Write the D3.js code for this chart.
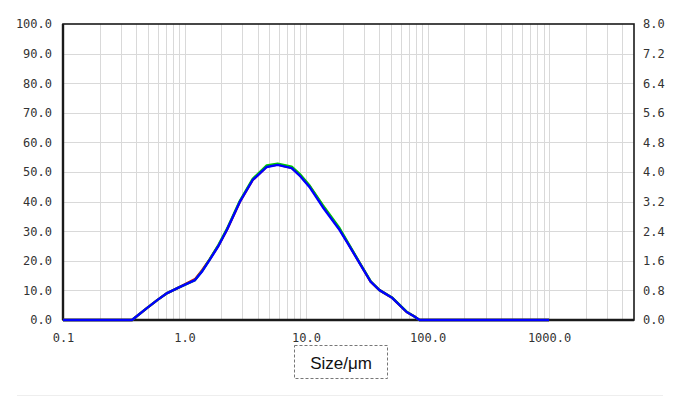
<!DOCTYPE html>
<html>
<head>
<meta charset="utf-8">
<script src="https://cdn.jsdelivr.net/npm/d3@7"></script>
<style>
  body { margin: 0; background: #fff; }
  svg { display: block; }
</style>
</head>
<body>
<div id="chart"></div>
<script>
// particle sizes (um) and the three overlaid distribution runs
const sizes = [0.1, 0.3, 0.37, 0.49, 0.6, 0.72, 0.91, 1.22, 1.4, 1.61, 1.9, 2.23, 2.85, 3.64, 4.75, 5.84, 7.62, 9.0, 10.7, 13.7, 18.9, 22, 27.5, 34, 40.2, 51.4, 67.3, 78, 85.8, 100, 1000];
const redValues = [0, 0, 0, 4.0, 6.8, 9.1, 11.1, 13.8, 16.9, 20.5, 25.1, 30.4, 39.9, 47.3, 51.8, 52.5, 51.4, 48.7, 45.2, 38.6, 30.6, 26.1, 19.4, 13.0, 10.1, 7.4, 2.7, 1.2, 0, 0, 0];
const greenValues = [0, 0, 0, 4.0, 6.8, 9.1, 11.1, 13.5, 16.6, 20.5, 25.3, 30.7, 40.2, 47.7, 52.2, 52.8, 51.8, 49.1, 45.4, 38.9, 31.0, 26.3, 19.5, 13.1, 10.1, 7.5, 2.8, 1.2, 0, 0, 0];
const blueValues = [0, 0, 0, 4.0, 6.8, 9.1, 11.1, 13.5, 16.5, 20.3, 25.0, 30.4, 39.9, 47.3, 51.7, 52.4, 51.3, 48.5, 44.9, 38.2, 30.4, 26.0, 19.3, 13.0, 10.1, 7.4, 2.7, 1.2, 0, 0, 0];

const xTicks = [0.1, 1, 10, 100, 1000];
const xTickLabels = ["0.1", "1.0", "10.0", "100.0", "1000.0"];
const leftTicks = [0, 10, 20, 30, 40, 50, 60, 70, 80, 90, 100];
const rightTicks = [0, 0.8, 1.6, 2.4, 3.2, 4.0, 4.8, 5.6, 6.4, 7.2, 8.0];
const xTitle = "Size/\u03bcm";

const width = 690, height = 397;
const plotLeft = 63, plotRight = 634, plotTop = 24, plotBottom = 320;

const svg = d3.select("#chart").append("svg")
    .attr("width", width)
    .attr("height", height);

const x = d3.scaleLog().domain([0.1, 5000]).range([plotLeft, plotRight]);
const y = d3.scaleLinear().domain([0, 100]).range([plotBottom, plotTop]);
const y2 = d3.scaleLinear().domain([0, 8]).range([plotBottom, plotTop]);

// vertical grid: every 1..9 per decade
const minor = [];
for (let e = -1; e <= 3; e++) {
    for (let m = 1; m <= 9; m++) {
        const v = m * Math.pow(10, e);
        if (v > 0.1 && v < 5000) minor.push(v);
    }
}

const grid = svg.append("g").attr("stroke", "#d9d9d9").attr("stroke-width", 1);
grid.selectAll("line.v")
    .data(minor)
    .join("line")
    .attr("class", "v")
    .attr("x1", d => Math.round(x(d)) + 0.5)
    .attr("x2", d => Math.round(x(d)) + 0.5)
    .attr("y1", plotTop)
    .attr("y2", plotBottom);
grid.selectAll("line.h")
    .data(leftTicks.slice(1, -1))
    .join("line")
    .attr("class", "h")
    .attr("x1", plotLeft)
    .attr("x2", plotRight)
    .attr("y1", d => Math.round(y(d)) + 0.5)
    .attr("y2", d => Math.round(y(d)) + 0.5);

// frame
svg.append("rect")
    .attr("x", plotLeft)
    .attr("y", plotTop)
    .attr("width", plotRight - plotLeft)
    .attr("height", plotBottom - plotTop)
    .attr("fill", "none")
    .attr("stroke", "#1a1a1a")
    .attr("stroke-width", 1.6);
svg.append("line")
    .attr("x1", plotLeft).attr("x2", plotRight)
    .attr("y1", plotBottom).attr("y2", plotBottom)
    .attr("stroke", "#1a1a1a").attr("stroke-width", 2.4);
svg.append("line")
    .attr("x1", plotLeft).attr("x2", plotLeft)
    .attr("y1", plotTop).attr("y2", plotBottom)
    .attr("stroke", "#1a1a1a").attr("stroke-width", 2.4);

// curves
const line = d3.line()
    .x(d => x(d[0]))
    .y(d => y(d[1]));

const series = [
    {color: "#ff0000", values: redValues},
    {color: "#00cc00", values: greenValues},
    {color: "#0000ff", values: blueValues}
];

svg.append("g").selectAll("path")
    .data(series)
    .join("path")
    .attr("d", s => line(sizes.map((sz, i) => [sz, s.values[i]])))
    .attr("fill", "none")
    .attr("stroke", s => s.color)
    .attr("stroke-width", 2.4)
    .attr("stroke-linejoin", "round");

// axes (labels only)
const tickFont = "'DejaVu Sans Mono', monospace";

const leftAxis = svg.append("g")
    .attr("transform", `translate(${plotLeft},0)`)
    .call(d3.axisLeft(y).tickValues(leftTicks).tickSize(0).tickPadding(11).tickFormat(d => d.toFixed(1)));

const rightAxis = svg.append("g")
    .attr("transform", `translate(${plotRight},0)`)
    .call(d3.axisRight(y2).tickValues(rightTicks).tickSize(0).tickPadding(9).tickFormat(d => d.toFixed(1)));

const bottomAxis = svg.append("g")
    .attr("transform", `translate(0,${plotBottom})`)
    .call(d3.axisBottom(x).tickValues(xTicks).tickSize(0).tickPadding(13)
        .tickFormat((d, i) => xTickLabels[i]));

[leftAxis, rightAxis, bottomAxis].forEach(a => {
    a.select(".domain").remove();
    a.selectAll("text")
        .attr("font-family", tickFont)
        .attr("font-size", 12)
        .attr("fill", "#333");
});

// axis title in dashed box
svg.append("rect")
    .attr("x", 294.5)
    .attr("y", 345.5)
    .attr("width", 93)
    .attr("height", 33)
    .attr("fill", "none")
    .attr("stroke", "#777")
    .attr("stroke-dasharray", "3,2");
svg.append("text")
    .attr("x", 341)
    .attr("y", 369)
    .attr("text-anchor", "middle")
    .attr("font-family", "'Liberation Sans', Arial, sans-serif")
    .attr("font-size", 17)
    .attr("fill", "#111")
    .text(xTitle);

// faint separator at the bottom
svg.append("line")
    .attr("x1", 17).attr("x2", 663)
    .attr("y1", 395.5).attr("y2", 395.5)
    .attr("stroke", "#eee");
</script>
</body>
</html>
